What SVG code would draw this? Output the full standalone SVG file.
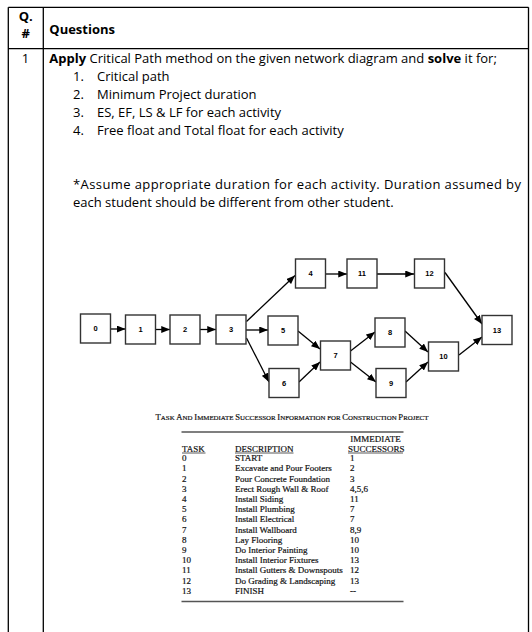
<svg xmlns="http://www.w3.org/2000/svg" width="532" height="632" viewBox="0 0 532 632">
<defs>
<style>
.t{font-family:"Open Sans","Liberation Sans",sans-serif;font-size:13px;fill:#000}
.b{font-weight:bold}
.grid{stroke:#000;stroke-width:1.3;fill:none}
.node rect{fill:#fff;stroke:#333;stroke-width:1.4}
.node text{font-family:"Liberation Sans",Arial,sans-serif;font-weight:bold;font-size:7.5px;text-anchor:middle;fill:#000}
.conn line{stroke:#000;stroke-width:1.3;marker-end:url(#ah)}
.tb{font-family:"Liberation Serif","Times New Roman",serif;font-size:9px;fill:#111;stroke:#111;stroke-width:0.2}
.rule{stroke:#555;stroke-width:1.6}
.ul{stroke:#111;stroke-width:0.7}
</style>
<marker id="ah" viewBox="0 0 10 8" refX="10" refY="4" markerWidth="9" markerHeight="7" markerUnits="userSpaceOnUse" orient="auto">
<path d="M0,0 L10,4 L0,8 z" fill="#000"/>
</marker>
</defs>
<rect width="532" height="632" fill="#fff"/>

<g id="frame">
<line class="grid" x1="8.3" y1="7.3" x2="528.5" y2="7.3"/>
<line class="grid" x1="8.3" y1="48.7" x2="528.5" y2="48.7"/>
<line class="grid" x1="8.3" y1="7.3" x2="8.3" y2="632"/>
<line class="grid" x1="43.3" y1="7.3" x2="43.3" y2="632"/>
<line class="grid" x1="528.5" y1="7.3" x2="528.5" y2="632"/>
</g>

<g id="header">
<text class="t b" x="25.8" y="21" text-anchor="middle">Q.</text>
<text class="t b" x="25.8" y="38" text-anchor="middle">#</text>
<text class="t b" x="49.3" y="33.5">Questions</text>
</g>

<g id="question">
<text class="t" x="25.5" y="63.3" text-anchor="middle">1</text>
<text class="t" x="49.3" y="63.3"><tspan class="b">Apply</tspan> Critical Path method on the given network diagram and <tspan class="b">solve</tspan> it for;</text>
<text class="t" x="73" y="81">1.</text><text class="t" x="97" y="81">Critical path</text>
<text class="t" x="73" y="99">2.</text><text class="t" x="97" y="99">Minimum Project duration</text>
<text class="t" x="73" y="117">3.</text><text class="t" x="97" y="117">ES, EF, LS &amp; LF for each activity</text>
<text class="t" x="73" y="135">4.</text><text class="t" x="97" y="135">Free float and Total float for each activity</text>
<text class="t" x="73" y="189" textLength="448" lengthAdjust="spacing">*Assume appropriate duration for each activity. Duration assumed by</text>
<text class="t" x="73" y="207">each student should be different from other student.</text>
</g>

<g id="connectors" class="conn">
<line x1="110.5" y1="329" x2="125.5" y2="329"/>
<line x1="155.5" y1="329.5" x2="170" y2="329.5"/>
<line x1="200" y1="329.5" x2="216" y2="329.5"/>
<line x1="246" y1="330" x2="268" y2="330"/>
<line x1="246.5" y1="321.5" x2="295" y2="275.5"/>
<line x1="246.5" y1="338" x2="269" y2="382"/>
<line x1="325.5" y1="274" x2="347" y2="274"/>
<line x1="377" y1="274" x2="414" y2="274"/>
<line x1="445" y1="272.5" x2="482" y2="324"/>
<line x1="298" y1="331" x2="320" y2="349"/>
<line x1="299" y1="382" x2="320" y2="362"/>
<line x1="350.5" y1="351" x2="375" y2="332"/>
<line x1="350.5" y1="362" x2="376" y2="382"/>
<line x1="405" y1="331" x2="428" y2="352"/>
<line x1="406" y1="382" x2="428" y2="362"/>
<line x1="459" y1="355" x2="482" y2="337"/>
</g>

<g id="n0" class="node"><rect x="80.5" y="314" width="30" height="29"/><text x="95.5" y="331.3">0</text></g>
<g id="n1" class="node"><rect x="125.5" y="315" width="30" height="29"/><text x="140.5" y="332.3">1</text></g>
<g id="n2" class="node"><rect x="170" y="315" width="30" height="29"/><text x="185" y="332.3">2</text></g>
<g id="n3" class="node"><rect x="216" y="315" width="30" height="29"/><text x="231" y="332.3">3</text></g>
<g id="n4" class="node"><rect x="295.5" y="259" width="30" height="29"/><text x="310.5" y="276.3">4</text></g>
<g id="n11" class="node"><rect x="347" y="259" width="30" height="29"/><text x="362" y="276.3">11</text></g>
<g id="n12" class="node"><rect x="414.5" y="259" width="30" height="29"/><text x="429.5" y="276.3">12</text></g>
<g id="n5" class="node"><rect x="268" y="316" width="30" height="29"/><text x="283" y="333.3">5</text></g>
<g id="n6" class="node"><rect x="269" y="368.5" width="30" height="29"/><text x="284" y="385.8">6</text></g>
<g id="n7" class="node"><rect x="320.5" y="341" width="30" height="29"/><text x="335.5" y="358.3">7</text></g>
<g id="n8" class="node"><rect x="375" y="318" width="30" height="29"/><text x="390" y="335.3">8</text></g>
<g id="n9" class="node"><rect x="376" y="368.5" width="30" height="29"/><text x="391" y="385.8">9</text></g>
<g id="n10" class="node"><rect x="428.5" y="342" width="30" height="29"/><text x="443.5" y="359.3">10</text></g>
<g id="n13" class="node"><rect x="482" y="315.5" width="30" height="29"/><text x="497" y="332.8">13</text></g>

<g id="taskTable">
<text class="tb" x="292" y="419.5" text-anchor="middle"><tspan font-size="8.6">T</tspan><tspan font-size="6.9">ASK </tspan><tspan font-size="8.6">A</tspan><tspan font-size="6.9">ND </tspan><tspan font-size="8.6">I</tspan><tspan font-size="6.9">MMEDIATE </tspan><tspan font-size="8.6">S</tspan><tspan font-size="6.9">UCCESSOR </tspan><tspan font-size="8.6">I</tspan><tspan font-size="6.9">NFORMATION FOR </tspan><tspan font-size="8.6">C</tspan><tspan font-size="6.9">ONSTRUCTION </tspan><tspan font-size="8.6">P</tspan><tspan font-size="6.9">ROJECT</tspan></text>
<line class="rule" x1="181.5" y1="432" x2="403.5" y2="432"/>
<text class="tb" x="375.5" y="441.5" text-anchor="middle">IMMEDIATE</text>
<text class="tb" x="182" y="451.5">TASK</text>
<text class="tb" x="235" y="451.5">DESCRIPTION</text>
<text class="tb" x="348" y="451.5">SUCCESSORS</text>
<line class="ul" x1="182" y1="453" x2="205.5" y2="453"/>
<line class="ul" x1="235" y1="453" x2="293.5" y2="453"/>
<line class="ul" x1="348" y1="453" x2="403" y2="453"/>
<g class="tb">
<text x="182" y="461.2">0</text><text x="235" y="461.2">START</text><text x="350" y="461.2">1</text>
<text x="182" y="471.4">1</text><text x="235" y="471.4">Excavate and Pour Footers</text><text x="350" y="471.4">2</text>
<text x="182" y="481.6">2</text><text x="235" y="481.6">Pour Concrete Foundation</text><text x="350" y="481.6">3</text>
<text x="182" y="491.8">3</text><text x="235" y="491.8">Erect Rough Wall &amp; Roof</text><text x="350" y="491.8">4,5,6</text>
<text x="182" y="502">4</text><text x="235" y="502">Install Siding</text><text x="350" y="502">11</text>
<text x="182" y="512.2">5</text><text x="235" y="512.2">Install Plumbing</text><text x="350" y="512.2">7</text>
<text x="182" y="522.4">6</text><text x="235" y="522.4">Install Electrical</text><text x="350" y="522.4">7</text>
<text x="182" y="532.6">7</text><text x="235" y="532.6">Install Wallboard</text><text x="350" y="532.6">8,9</text>
<text x="182" y="542.8">8</text><text x="235" y="542.8">Lay Flooring</text><text x="350" y="542.8">10</text>
<text x="182" y="553">9</text><text x="235" y="553">Do Interior Painting</text><text x="350" y="553">10</text>
<text x="182" y="563.2">10</text><text x="235" y="563.2">Install Interior Fixtures</text><text x="350" y="563.2">13</text>
<text x="182" y="573.4">11</text><text x="235" y="573.4">Install Gutters &amp; Downspouts</text><text x="350" y="573.4">12</text>
<text x="182" y="583.6">12</text><text x="235" y="583.6">Do Grading &amp; Landscaping</text><text x="350" y="583.6">13</text>
<text x="182" y="593.8">13</text><text x="235" y="593.8">FINISH</text><text x="350" y="593.8">--</text>
</g>
<line class="rule" x1="181.5" y1="601.5" x2="403.5" y2="601.5"/>
</g>
</svg>
